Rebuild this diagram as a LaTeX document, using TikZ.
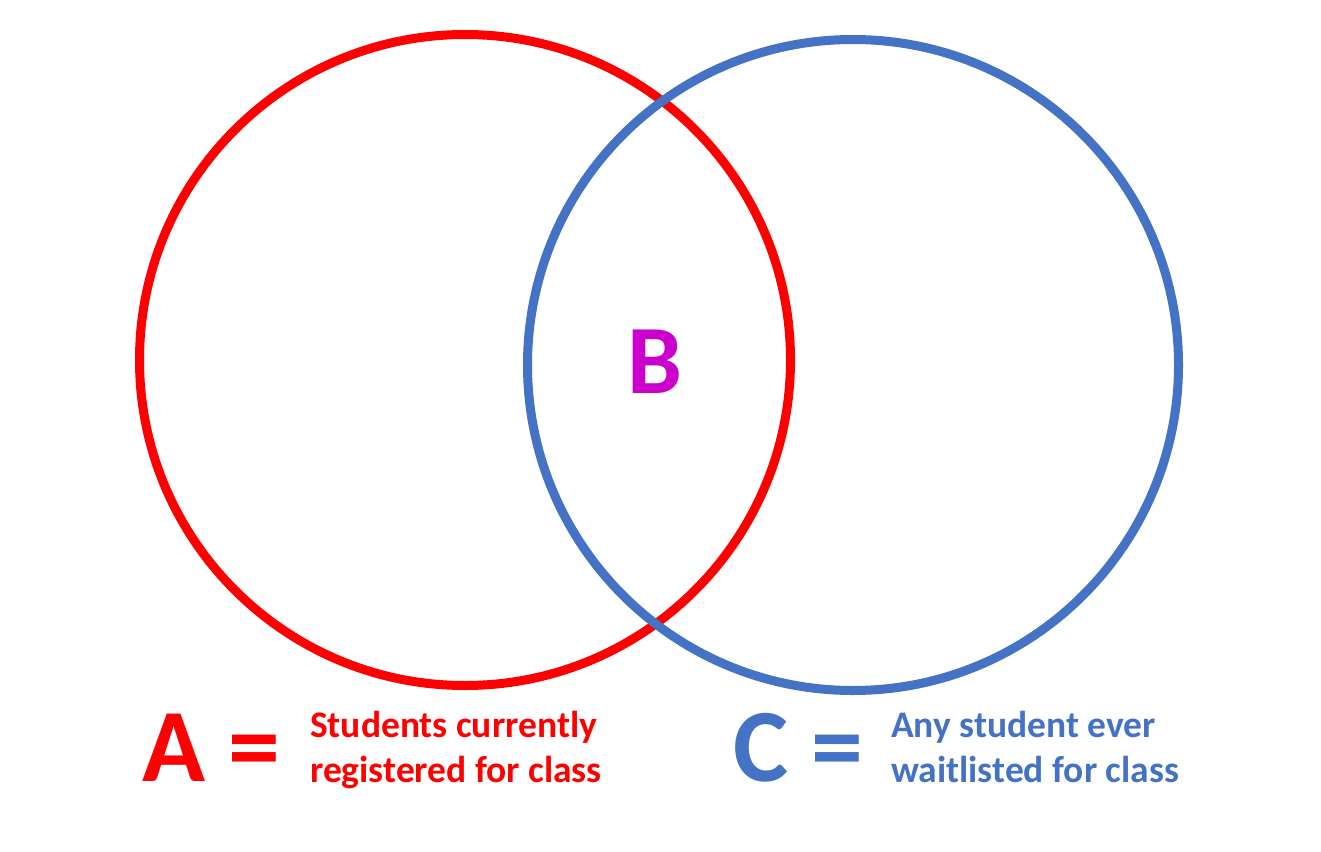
\documentclass[tikz,border=0pt]{standalone}
\usepackage{fontspec}
\setmainfont{Carlito}
\definecolor{setred}{HTML}{FF0000}
\definecolor{setblue}{HTML}{4472C4}
\definecolor{setpink}{HTML}{CC00CC}
\tikzset{
  setring/.style={circle,draw,line width=9pt,minimum size=651pt,inner sep=0pt},
  bigletter/.style={font=\bfseries\fontsize{104}{104}\selectfont,inner sep=0pt,anchor=base west},
  setlabel/.style={font=\bfseries\fontsize{37.5}{45}\selectfont,inner sep=0pt,align=left,anchor=base west}
}
\begin{document}
\begin{tikzpicture}[x={(1pt,0pt)},y={(0pt,-1pt)}]
\useasboundingbox (0,0) rectangle (1321,851);
\node[setring,setred] (setA) at (465,360) {};
\node[setring,setblue] (setC) at (853,365) {};
\node[bigletter,setpink,anchor=base,font=\bfseries\fontsize{98}{98}\selectfont] (labB) at (655,393) {B};
% labels under the rings
\node[bigletter,setred] (labA) at (142,781) {A =};
\node[setlabel,setred] (descA) at (310,782) {Students currently\\registered for class};
\node[bigletter,setblue] (labC) at (733,781) {C =};
\node[setlabel,setblue] (descC) at (891,782) {Any student ever\\waitlisted for class};

\end{tikzpicture}
\end{document}
